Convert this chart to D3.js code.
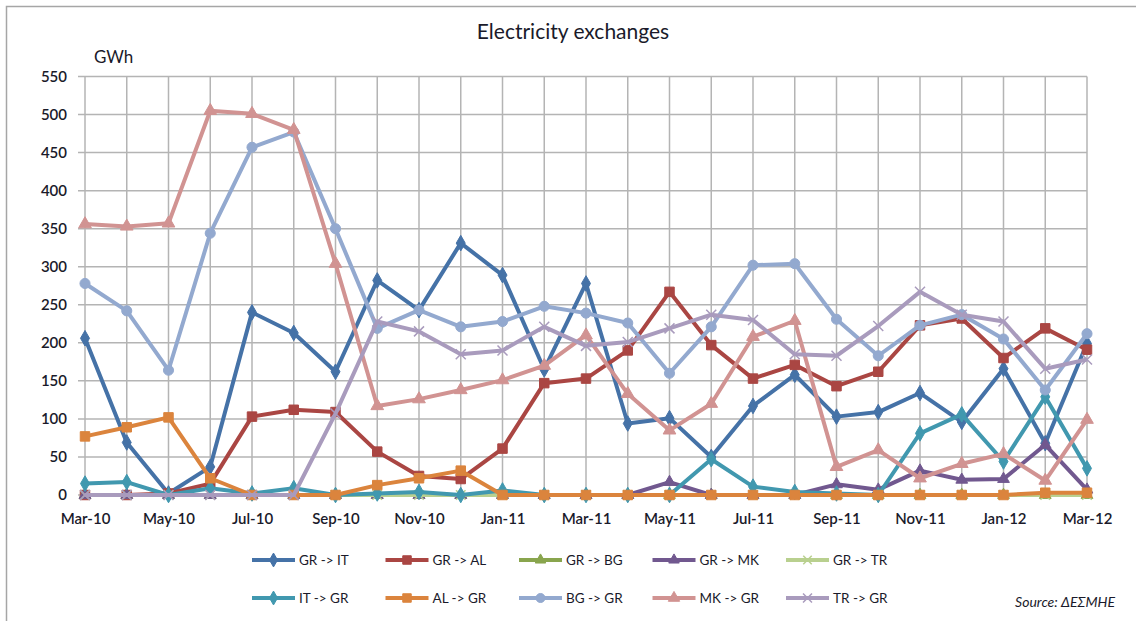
<!DOCTYPE html>
<html>
<head>
<meta charset="utf-8">
<script src="https://cdn.jsdelivr.net/npm/d3@7"></script>
<style>
  body { margin: 0; background: #fff; }
  svg text { font-family: Lato, "Open Sans", sans-serif; fill: #1a1a2a; }
</style>
</head>
<body>
<div id="chart"></div>
<script>

// months on the category axis
const months = ['Mar-10','Apr-10','May-10','Jun-10','Jul-10','Aug-10','Sep-10','Oct-10','Nov-10','Dec-10',
    'Jan-11','Feb-11','Mar-11','Apr-11','May-11','Jun-11','Jul-11','Aug-11','Sep-11','Oct-11','Nov-11','Dec-11',
    'Jan-12','Feb-12','Mar-12'];

const yTicks = [0,50,100,150,200,250,300,350,400,450,500,550];

// GWh per month
const grIt = [206,69,2,37,240,213,162,282,243,331,289,165,278,94,101,50,117,158,103,109,134,96,166,68,199];
const grAl = [0,0,2,15,103,112,109,57,25,21,61,147,153,190,267,197,153,171,143,162,223,232,180,219,191];
const grBg = [0,0,0,0,0,0,0,0,0,0,0,0,0,0,0,0,0,0,0,0,0,0,0,0,0];
const grMk = [0,0,0,0,0,0,0,0,0,0,0,0,0,0,17,0,0,0,14,7,32,20,21,66,7];
const grTr = [0,0,0,0,0,0,0,0,0,0,0,0,0,0,0,0,0,0,0,0,0,0,0,0,0];
const itGr = [15,17,0,9,2,9,0,2,4,0,6,0,0,0,0,47,11,4,2,0,81,106,44,129,35];
const alGr = [77,89,102,22,0,0,0,13,22,32,0,0,0,0,0,0,0,0,0,0,0,0,0,3,3];
const bgGr = [278,242,164,344,457,477,350,219,243,221,228,248,239,226,160,221,302,304,231,183,223,237,205,138,212];
const mkGr = [356,353,357,505,501,480,304,117,126,138,151,170,210,133,85,120,208,229,37,59,22,41,54,19,99];
const trGr = [0,0,0,0,0,0,107,228,215,185,190,221,196,201,219,237,230,185,183,222,267,237,228,166,178];

const seriesNames = ['GR -> IT','GR -> AL','GR -> BG','GR -> MK','GR -> TR','IT -> GR','AL -> GR','BG -> GR','MK -> GR','TR -> GR'];

// x marker, d3.symbolX is not in every build
const symbolCrossX = {
    draw(ctx, size) {
        const r = Math.sqrt(size) / 2;
        ctx.moveTo(-r, -r); ctx.lineTo(r, r);
        ctx.moveTo(-r, r); ctx.lineTo(r, -r);
    }
};

const series = [
    {name: seriesNames[0], values: grIt, color: '#4572A7', symbol: d3.symbolDiamond, size: 70},
    {name: seriesNames[1], values: grAl, color: '#AA4643', symbol: d3.symbolSquare, size: 90},
    {name: seriesNames[2], values: grBg, color: '#89A54E', symbol: d3.symbolTriangle, size: 60},
    {name: seriesNames[3], values: grMk, color: '#71588F', symbol: d3.symbolTriangle, size: 60},
    {name: seriesNames[4], values: grTr, color: '#B9D08F', symbol: symbolCrossX, size: 90, stroke: true},
    {name: seriesNames[5], values: itGr, color: '#4198AF', symbol: d3.symbolDiamond, size: 70},
    {name: seriesNames[6], values: alGr, color: '#DB843D', symbol: d3.symbolSquare, size: 90},
    {name: seriesNames[7], values: bgGr, color: '#93A9CF', symbol: d3.symbolCircle, size: 80},
    {name: seriesNames[8], values: mkGr, color: '#D19392', symbol: d3.symbolTriangle, size: 70},
    {name: seriesNames[9], values: trGr, color: '#A99BBD', symbol: symbolCrossX, size: 100, stroke: true}
];

const width = 1136, height = 621;
const margin = {top: 76.5, right: 49, bottom: 126, left: 85};

const svg = d3.select('#chart')
    .append('svg')
    .attr('width', width)
    .attr('height', height);

// chart frame
svg.append('path')
    .attr('d', `M6.5,${height} V6.5 H${width}`)
    .attr('fill', 'none')
    .attr('stroke', '#a6a6a6')
    .attr('stroke-width', 1.5);

const x = d3.scalePoint()
    .domain(months)
    .range([margin.left, width - margin.right]);

const y = d3.scaleLinear()
    .domain([0, 550])
    .range([height - margin.bottom, margin.top]);

// grid
svg.append('g')
    .selectAll('line')
    .data(yTicks)
    .enter().append('line')
    .attr('x1', margin.left - 7)
    .attr('x2', width - margin.right)
    .attr('y1', d => y(d))
    .attr('y2', d => y(d))
    .attr('stroke', '#b4b4b4')
    .attr('stroke-width', 1.5);

svg.append('g')
    .selectAll('line')
    .data(months)
    .enter().append('line')
    .attr('x1', d => x(d))
    .attr('x2', d => x(d))
    .attr('y1', y(550))
    .attr('y2', y(0))
    .attr('stroke', '#b4b4b4')
    .attr('stroke-width', 1.5);

// y axis
const yAxis = d3.axisLeft(y)
    .tickValues(yTicks)
    .tickSize(0)
    .tickPadding(18);

svg.append('g')
    .attr('transform', `translate(${margin.left},0)`)
    .call(yAxis)
    .call(g => g.select('.domain').remove())
    .selectAll('text')
    .style('font-size', '15px')
    .style('font-weight', '600')
    .style('font-family', 'Lato, sans-serif')
    .attr('fill', '#1a1a2a');

// x axis, one label every two months
const xAxis = d3.axisBottom(x)
    .tickValues(months.filter((d, i) => i % 2 === 0))
    .tickSize(0)
    .tickPadding(18);

svg.append('g')
    .attr('transform', `translate(0,${y(0)})`)
    .call(xAxis)
    .call(g => g.select('.domain').remove())
    .selectAll('text')
    .style('font-size', '15px')
    .style('font-weight', '600')
    .style('font-family', 'Lato, sans-serif')
    .attr('fill', '#1a1a2a');

// lines + markers
const line = d3.line()
    .x((d, i) => x(months[i]))
    .y(d => y(d));

series.forEach(s => {
    const g = svg.append('g').attr('class', 'series');
    g.append('path')
        .datum(s.values)
        .attr('d', line)
        .attr('fill', 'none')
        .attr('stroke', s.color)
        .attr('stroke-width', 4)
        .attr('stroke-linejoin', 'round');

    g.selectAll('.dot')
        .data(s.values)
        .enter().append('path')
        .attr('class', 'dot')
        .attr('transform', (d, i) => `translate(${x(months[i])},${y(d)})`)
        .attr('d', d3.symbol().type(s.symbol).size(s.size))
        .attr('fill', s.stroke ? 'none' : s.color)
        .attr('stroke', s.color)
        .attr('stroke-width', s.stroke ? 1.5 : 1);
});

// title
svg.append('text')
    .attr('x', 573)
    .attr('y', 39)
    .attr('text-anchor', 'middle')
    .style('font-size', '21px')
    .text('Electricity exchanges');

svg.append('text')
    .attr('x', 94)
    .attr('y', 63)
    .style('font-size', '17px')
    .text('GWh');

// legend, two rows of five
const legend = svg.append('g');
const item = legend.selectAll('.legend-item')
    .data(series)
    .enter().append('g')
    .attr('class', 'legend-item')
    .attr('transform', (d, i) => `translate(${252 + (i % 5) * 133.5},${i < 5 ? 560 : 598})`);

item.append('line')
    .attr('x1', 0)
    .attr('x2', 43)
    .attr('stroke', d => d.color)
    .attr('stroke-width', 4);

item.append('path')
    .attr('transform', 'translate(21.5,0)')
    .attr('d', d => d3.symbol().type(d.symbol).size(d.size * 0.8)())
    .attr('fill', d => d.stroke ? 'none' : d.color)
    .attr('stroke', d => d.color)
    .attr('stroke-width', d => d.stroke ? 1.5 : 1);

item.append('text')
    .attr('x', 47)
    .attr('dy', '0.35em')
    .style('font-size', '13.5px')
    .text(d => d.name);

svg.append('text')
    .attr('x', 1115)
    .attr('y', 602)
    .attr('dy', '0.35em')
    .attr('text-anchor', 'end')
    .style('font-size', '14px')
    .style('font-style', 'italic')
    .text('Source: ΔΕΣΜΗΕ');

</script>
</body>
</html>
